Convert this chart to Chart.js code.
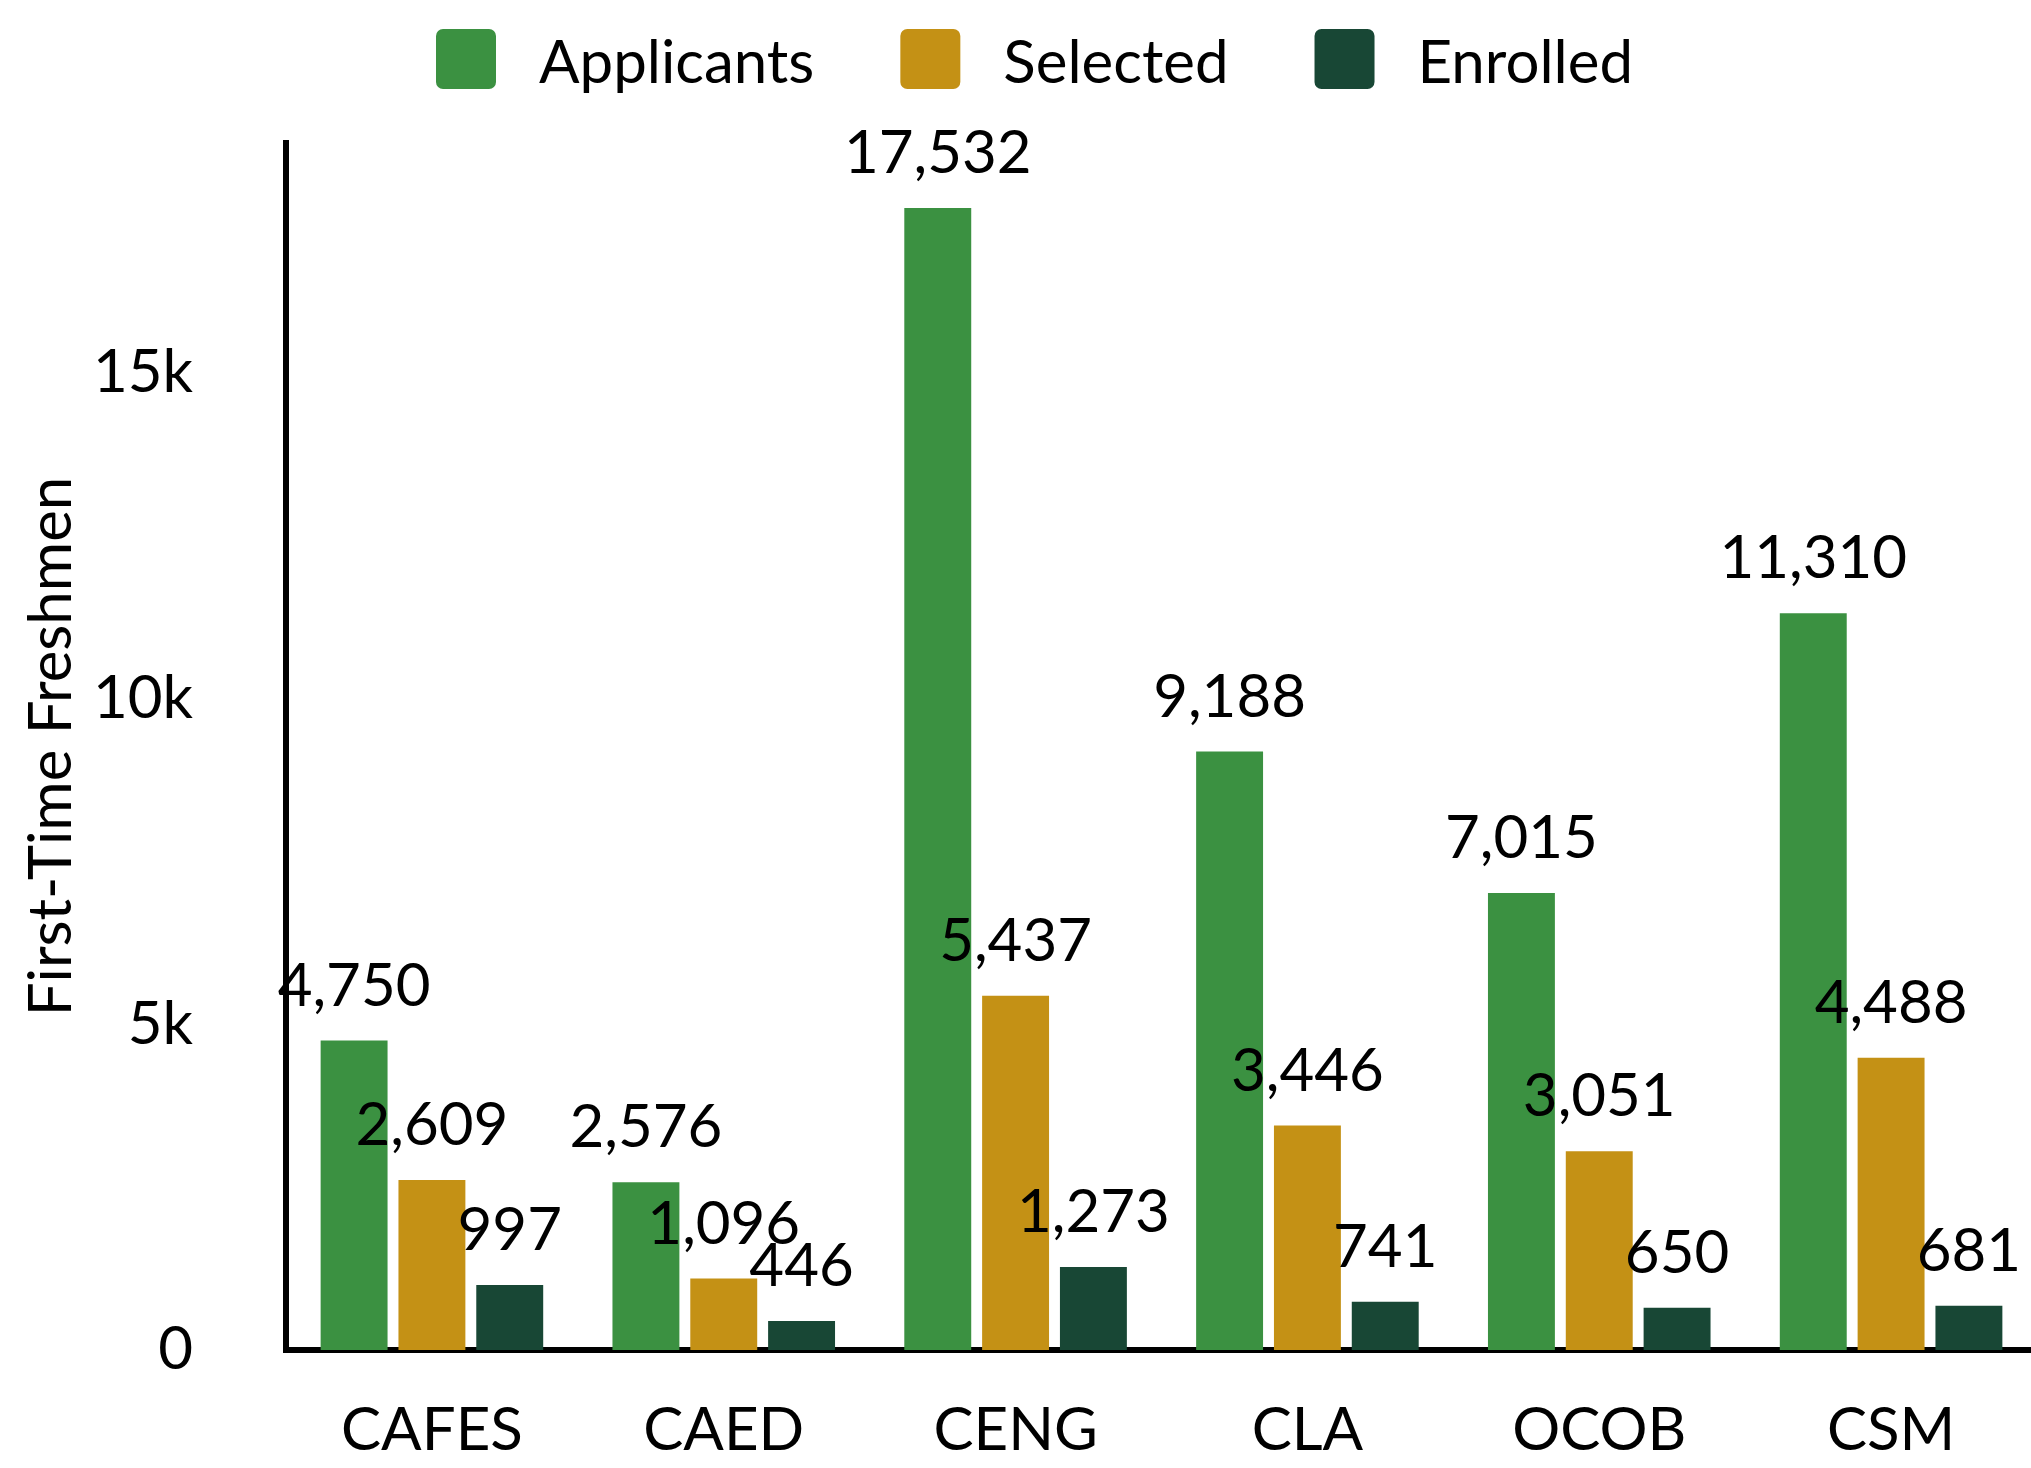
<!DOCTYPE html>
<html>
<head>
<meta charset="utf-8">
<script src="https://cdn.jsdelivr.net/npm/chart.js@4/dist/chart.umd.min.js"></script>
<style>
  html, body { margin: 0; padding: 0; background: #fff; overflow: hidden; }
  #wrap { width: 2037px; height: 1468px; position: relative; }
</style>
</head>
<body>
<div id="wrap"><canvas id="c"></canvas></div>
<script>
/* Freshmen funnel by college: applicants / selected / enrolled */
const colleges = ["CAFES", "CAED", "CENG", "CLA", "OCOB", "CSM"];
const applicants = [4750, 2576, 17532, 9188, 7015, 11310];
const selected = [2609, 1096, 5437, 3446, 3051, 4488];
const enrolled = [997, 446, 1273, 741, 650, 681];
const yTicks = [0, 5000, 10000, 15000];

const FONT = "Lato";
const colors = { Applicants: "#3B9141", Selected: "#C49115", Enrolled: "#184735" };

// value labels sitting above each bar
const valueLabels = {
  id: "valueLabels",
  afterDatasetsDraw(chart) {
    const ctx = chart.ctx;
    ctx.save();
    ctx.font = `60px ${FONT}`;
    ctx.fillStyle = "#000";
    ctx.textAlign = "center";
    ctx.textBaseline = "alphabetic";
    chart.data.datasets.forEach((ds, i) => {
      chart.getDatasetMeta(i).data.forEach((bar, j) => {
        ctx.fillText(ds.data[j].toLocaleString("en-US"), bar.x, bar.y - 35);
      });
    });
    ctx.restore();
  },
};

// legend row across the top (rounded squares + names)
const topLegend = {
  id: "topLegend",
  afterDraw(chart) {
    const ctx = chart.ctx, box = 60, gapText = 43, gapItem = 86;
    ctx.save();
    ctx.font = `60px ${FONT}`;
    let x = 436;
    const top = 29, base = 83;
    chart.data.datasets.forEach((d) => {
      ctx.fillStyle = d.backgroundColor;
      ctx.beginPath();
      ctx.roundRect(x, top, box, box, 7);
      ctx.fill();
      ctx.fillStyle = "#000";
      ctx.textAlign = "left";
      ctx.textBaseline = "alphabetic";
      ctx.fillText(d.label, x + box + gapText, base);
      x += box + gapText + ctx.measureText(d.label).width + gapItem;
    });
    ctx.restore();
  },
};

const mk = (label, data) => ({ label, data, backgroundColor: colors[label], borderWidth: 0,
  barPercentage: 0.86, categoryPercentage: 0.8 });

new Chart(document.getElementById("c"), {
  type: "bar",
  data: { labels: colleges, datasets: [mk("Applicants", applicants), mk("Selected", selected), mk("Enrolled", enrolled)] },
  options: {
    responsive: true, maintainAspectRatio: false, animation: false,
    layout: { padding: { top: 143, right: 0, bottom: 0, left: 0 } },
    plugins: { legend: { display: false }, tooltip: { enabled: false } },
    scales: {
      x: {
        grid: { display: false, drawTicks: false },
        border: { display: true, color: "#000", width: 6 },
        ticks: { color: "#000", font: { family: FONT, size: 60 }, padding: 45, maxRotation: 0 },
        afterFit: (s) => { s.height = 118; },
      },
      y: {
        min: 0, max: 18530,
        grid: { display: false, drawTicks: false },
        border: { display: true, color: "#000", width: 6 },
        ticks: { color: "#000", font: { family: FONT, size: 60 }, padding: 93,
          callback: (v) => (v === 0 ? "0" : v / 1000 + "k") },
        afterBuildTicks: (s) => { s.ticks = yTicks.map((v) => ({ value: v })); },
        title: { display: true, text: "First-Time Freshmen", color: "#000",
          font: { family: FONT, size: 60 }, padding: { top: 16, bottom: 0 } },
        // the big label gap would otherwise be reserved above/below the plot too
        afterFit: (s) => { s.width = 286; s.paddingTop = 36; s.paddingBottom = 36; },
      },
    },
  },
  plugins: [valueLabels, topLegend],
});
</script>
</body>
</html>
